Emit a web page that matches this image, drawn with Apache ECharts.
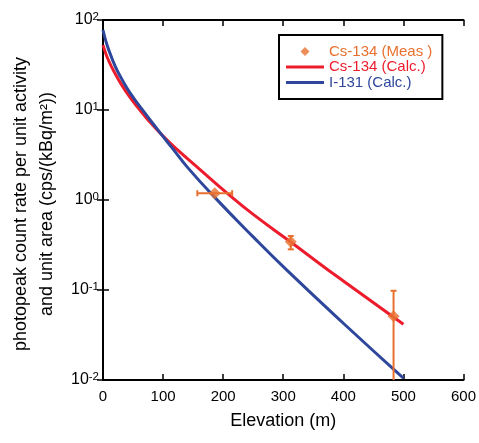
<!DOCTYPE html>
<html>
<head>
<meta charset="utf-8">
<title>Photopeak count rate vs elevation</title>
<script src="https://cdn.jsdelivr.net/npm/echarts@6/dist/echarts.min.js"></script>
<style>
  html, body { margin: 0; padding: 0; background: #fff; }
  #main { width: 479px; height: 443px; }
</style>
</head>
<body>
<div id="main"></div>
<script>
// calculated curves (elevation in m, count rate)
var csCalcX = [0, 5, 10, 17, 30, 45, 61.5, 75, 100, 125, 161, 208, 250, 313, 369, 400, 500];
var csCalcY = [52.5, 41.7, 34.7, 27.8, 19.5, 13.8, 10.0, 7.76, 5.13, 3.55, 2.19, 1.17, 0.692, 0.339, 0.178, 0.126, 0.0417];
var iCalcX = [0, 5, 10, 20, 30, 45, 67, 90, 116, 141, 186, 250, 306, 400, 500];
var iCalcY = [77.4, 57.5, 45.7, 30.9, 22.9, 15.5, 9.77, 6.17, 3.72, 2.29, 1.07, 0.389, 0.166, 0.0427, 0.0105];

// measured Cs-134 points and their error ranges
var measX = [186, 312.5, 483.6];
var measY = [1.19, 0.344, 0.051];
var measXLo = [157, 312.5, 483.6];
var measXHi = [215, 312.5, 483.6];
var measYLo = [1.19, 0.283, 0.01];
var measYHi = [1.19, 0.398, 0.098];

var seriesNames = ['Cs-134 (Meas )', 'Cs-134 (Calc.)', 'I-131 (Calc.)'];

var ORANGE = '#E8702F', RED = '#EC1C2D', BLUE = '#2E479C';
var FONT = '"Liberation Sans", Arial, sans-serif';
var Y_MIN = 0.01, Y_MAX = 100;

function pairs(xs, ys) {
    var out = [];
    for (var i = 0; i < xs.length; i++) out.push([xs[i], ys[i]]);
    return out;
}

var errData = [];
for (var i = 0; i < measX.length; i++) {
    errData.push([measX[i], measY[i], measXLo[i], measXHi[i], measYLo[i], measYHi[i]]);
}

var myChart = echarts.init(document.getElementById('main'));

var tickStyle = { show: true, inside: true, length: 6, lineStyle: { color: '#000', width: 1.5 } };
var lineStyleAxis = { show: true, lineStyle: { color: '#000', width: 2 } };

// legend icons: thin bar for the curves, small diamond for the measurement
var barIcon = 'path://M0,0H38V3H0Z';
var diamondIcon = 'path://M5,0L10,5L5,10L0,5Z';

var option = {
    animation: false,
    backgroundColor: '#fff',
    grid: { left: 103, right: 15, top: 20, bottom: 63 },
    legend: {
        orient: 'vertical',
        left: 279,
        top: 35,
        padding: [9, 10, 9, 7],
        borderColor: '#000',
        borderWidth: 2,
        itemWidth: 38,
        itemHeight: 9,
        itemGap: 0.5,
        symbolKeepAspect: true,
        selectedMode: false,
        textStyle: { fontSize: 15, fontFamily: FONT, lineHeight: 15 },
        data: [
            { name: seriesNames[0], icon: diamondIcon, itemStyle: { color: ORANGE }, textStyle: { color: ORANGE } },
            { name: seriesNames[1], icon: barIcon, itemStyle: { color: RED }, textStyle: { color: RED } },
            { name: seriesNames[2], icon: barIcon, itemStyle: { color: BLUE }, textStyle: { color: BLUE } }
        ]
    },
    xAxis: [{
        type: 'value',
        min: 0, max: 600, interval: 100,
        name: 'Elevation (m)',
        nameLocation: 'middle',
        nameGap: 32,
        nameTextStyle: { fontSize: 18, fontFamily: FONT, color: '#000' },
        axisLine: lineStyleAxis,
        axisTick: tickStyle,
        axisLabel: { fontSize: 15, fontFamily: FONT, color: '#000', margin: 9 },
        splitLine: { show: false }
    }, {
        type: 'value',
        position: 'top',
        min: 0, max: 600, interval: 100,
        axisLine: lineStyleAxis,
        axisTick: tickStyle,
        axisLabel: { show: false },
        splitLine: { show: false }
    }],
    yAxis: [{
        type: 'log',
        logBase: 10,
        min: Y_MIN, max: Y_MAX,
        name: 'photopeak count rate per unit activity\nand unit area (cps/(kBq/m²))',
        nameLocation: 'middle',
        nameRotate: 90,
        nameGap: 38,
        nameTextStyle: { fontSize: 18, fontFamily: FONT, color: '#000', lineHeight: 26, align: 'center', padding: [0, 8, 0, 0] },
        axisLine: lineStyleAxis,
        axisTick: tickStyle,
        minorTick: { show: false },
        axisLabel: {
            margin: 4,
            formatter: function (v) {
                var e = Math.round(Math.log10(v));
                return '{b|10}{e|' + e + '}';
            },
            rich: {
                b: { fontSize: 16, fontFamily: FONT, color: '#000', lineHeight: 18 },
                e: { fontSize: 11.5, fontFamily: FONT, color: '#000', lineHeight: 11, verticalAlign: 'top' }
            }
        },
        splitLine: { show: false }
    }, {
        type: 'log',
        logBase: 10,
        position: 'right',
        min: Y_MIN, max: Y_MAX,
        axisLine: lineStyleAxis,
        axisTick: tickStyle,
        axisLabel: { show: false },
        splitLine: { show: false }
    }],
    series: [{
        name: 'err',
        type: 'custom',
        clip: true,
        z: 3,
        data: errData,
        encode: { x: 0, y: 1 },
        renderItem: function (params, api) {
            var y = api.value(1), x = api.value(0);
            var xl = api.value(2), xh = api.value(3), yl = api.value(4), yh = api.value(5);
            var st = { stroke: ORANGE, lineWidth: 2 };
            var cap = 3;
            var kids = [];
            function seg(a, b) {
                kids.push({ type: 'line', shape: { x1: a[0], y1: a[1], x2: b[0], y2: b[1] }, style: st });
            }
            if (xh > xl) {
                var a = api.coord([xl, y]), b = api.coord([xh, y]);
                seg(a, b);
                seg([a[0], a[1] - cap], [a[0], a[1] + cap]);
                seg([b[0], b[1] - cap], [b[0], b[1] + cap]);
            }
            if (yh > yl) {
                var c = api.coord([x, yl]), d = api.coord([x, yh]);
                seg(c, d);
                if (yl > Y_MIN) seg([c[0] - cap, c[1]], [c[0] + cap, c[1]]);
                seg([d[0] - cap, d[1]], [d[0] + cap, d[1]]);
            }
            return { type: 'group', children: kids };
        }
    }, {
        name: seriesNames[1],
        type: 'line',
        smooth: true,
        symbol: 'none',
        z: 2,
        color: RED,
        lineStyle: { color: RED, width: 3 },
        data: pairs(csCalcX, csCalcY)
    }, {
        name: seriesNames[2],
        type: 'line',
        smooth: true,
        symbol: 'none',
        z: 2,
        color: BLUE,
        lineStyle: { color: BLUE, width: 3 },
        data: pairs(iCalcX, iCalcY)
    }, {
        name: seriesNames[0],
        type: 'scatter',
        symbol: 'diamond',
        symbolSize: 12,
        z: 4,
        itemStyle: { color: ORANGE },
        data: pairs(measX, measY)
    }]
};

myChart.setOption(option);
</script>
</body>
</html>
